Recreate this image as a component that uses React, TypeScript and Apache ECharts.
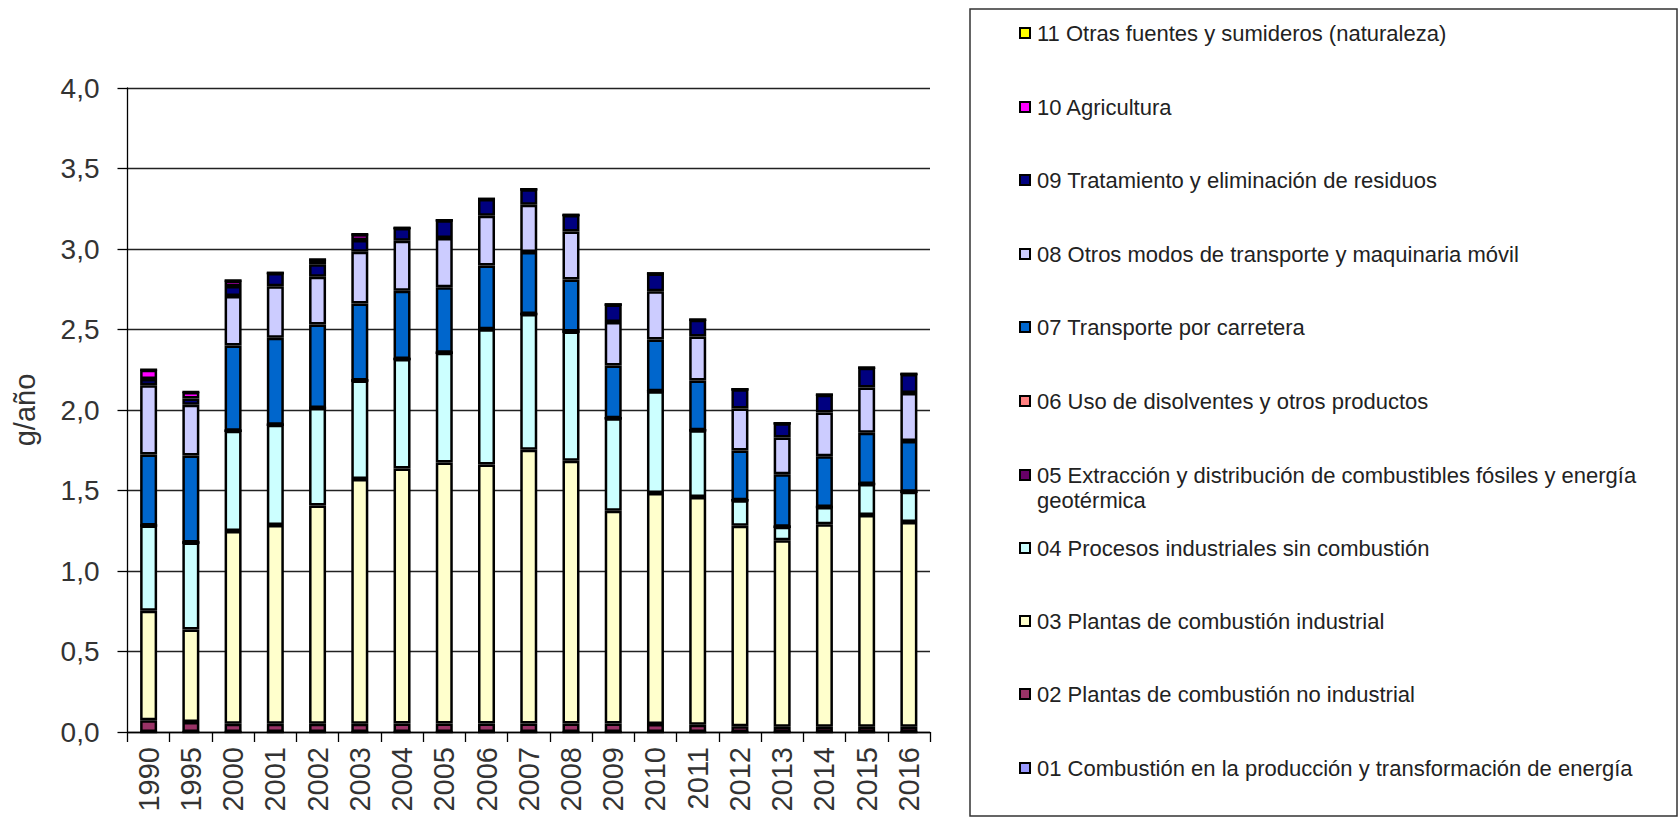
import React, { useEffect, useRef } from "react";
import * as echarts from "echarts";

const years = ["1990","1995","2000","2001","2002","2003","2004","2005","2006","2007","2008","2009","2010","2011","2012","2013","2014","2015","2016"];

const seriesNames = [
  "01 Combustión en la producción y transformación de energía",
  "02 Plantas de combustión no industrial",
  "03 Plantas de combustión industrial",
  "04 Procesos industriales sin combustión",
  "05 Extracción y distribución de combustibles fósiles y energía geotérmica",
  "06 Uso de disolventes y otros productos",
  "07 Transporte por carretera",
  "08 Otros modos de transporte y maquinaria móvil",
  "09 Tratamiento y eliminación de residuos",
  "10 Agricultura",
  "11 Otras fuentes y sumideros (naturaleza)",
];

const seriesColors = ["#9999FF","#993366","#FFFFCC","#CCFFFF","#660066","#FF8080","#0066CC","#CCCCFF","#000080","#FF00FF","#FFFF00"];

const s01 = [0,0,0,0,0,0,0,0,0,0,0,0,0,0,0,0,0,0,0];
const s02 = [0.073,0.062,0.052,0.052,0.052,0.052,0.053,0.053,0.053,0.053,0.053,0.053,0.05,0.045,0.035,0.033,0.033,0.033,0.033];
const s03 = [0.68,0.575,1.197,1.234,1.355,1.519,1.584,1.621,1.609,1.70,1.632,1.322,1.434,1.414,1.246,1.158,1.257,1.315,1.271];
const s04 = [0.53,0.54,0.622,0.623,0.605,0.612,0.68,0.682,0.839,0.844,0.802,0.574,0.633,0.415,0.158,0.084,0.107,0.193,0.188];
const s05 = [0,0,0,0,0,0,0,0,0,0,0,0,0,0,0,0,0,0,0];
const s06 = [0,0,0,0,0,0,0,0,0,0,0,0,0,0,0,0,0,0,0];
const s07 = [0.44,0.54,0.53,0.539,0.519,0.479,0.423,0.407,0.396,0.384,0.324,0.327,0.321,0.31,0.31,0.326,0.315,0.317,0.315];
const s08 = [0.43,0.315,0.307,0.32,0.297,0.321,0.311,0.306,0.31,0.294,0.297,0.271,0.299,0.273,0.26,0.228,0.272,0.282,0.299];
const s09 = [0.04,0.04,0.062,0.083,0.077,0.073,0.08,0.11,0.103,0.096,0.103,0.108,0.111,0.104,0.12,0.089,0.111,0.122,0.118];
const s10 = [0.057,0.04,0.035,0,0.03,0.035,0,0,0,0,0,0,0,0,0,0,0,0,0];
const s11 = [0,0,0,0,0,0,0,0,0,0,0,0,0,0,0,0,0,0,0];

const seriesValues = [s01,s02,s03,s04,s05,s06,s07,s08,s09,s10,s11];

const yTicks = [0, 0.5, 1, 1.5, 2, 2.5, 3, 3.5, 4];

const FONT = "Liberation Sans, Arial, sans-serif";

export default function App() {
  const ref = useRef<HTMLDivElement>(null);

  useEffect(() => {
    document.body.style.margin = "0";
    if (!ref.current) return;
    const chart = echarts.init(ref.current, null, { renderer: "svg" });

    const LH = 25;
    // legend rows (top to bottom: 11 ... 01), centre y in px
    const rowCentres = [33, 107, 180, 254, 327, 401, 475, 548, 621, 694, 768];
    const legends = seriesNames
      .slice()
      .reverse()
      .map((name, i) => {
        const isLong = name.startsWith("05");
        return {
          data: [name],
          orient: "vertical" as const,
          left: 1019,
          top: rowCentres[i] - (isLong ? LH * 1.5 : LH / 2),
          itemWidth: 10,
          itemHeight: 10,
          icon: "rect",
          selectedMode: false,
          padding: 0,
          itemStyle: { borderColor: "#000", borderWidth: 2 },
          formatter: isLong
            ? () => "\n05 Extracción y distribución de combustibles fósiles y energía\ngeotérmica"
            : undefined,
          textStyle: {
            fontSize: 22,
            color: "#222",
            fontFamily: FONT,
            lineHeight: LH,
            padding: [0, 0, 0, 2],
          },
        };
      });

    chart.setOption({
      animation: false,
      backgroundColor: "#fff",
      grid: { left: 127.5, right: 750, top: 88, bottom: 87, containLabel: false },
      legend: legends,
      graphic: [
        {
          type: "rect",
          shape: { x: 970, y: 9, width: 707, height: 807 },
          style: { fill: "none", stroke: "#333", lineWidth: 1.5 },
          silent: true,
        },
      ],
      xAxis: {
        type: "category",
        data: years,
        axisLine: { lineStyle: { color: "#000", width: 1.3 } },
        axisTick: { show: true, length: 10, interval: 0, lineStyle: { color: "#000", width: 1.3 } },
        axisLabel: {
          rotate: 90,
          interval: 0,
          fontSize: 29,
          margin: 15,
          color: "#333",
          fontFamily: FONT,
        },
      },
      yAxis: {
        type: "value",
        min: yTicks[0],
        max: yTicks[yTicks.length - 1],
        interval: 0.5,
        name: "g/año",
        nameLocation: "middle",
        nameGap: 88,
        nameRotate: 90,
        nameTextStyle: { fontSize: 29, color: "#333", fontFamily: FONT },
        axisLine: { show: true, lineStyle: { color: "#000", width: 1.3 } },
        axisTick: { show: true, length: 10, lineStyle: { color: "#000", width: 1.3 } },
        axisLabel: {
          fontSize: 28,
          margin: 28,
          color: "#333",
          fontFamily: FONT,
          formatter: (v: number) => v.toFixed(1).replace(".", ","),
        },
        splitLine: { show: true, lineStyle: { color: "#222", width: 1.3 } },
      },
      series: seriesNames.map((name, i) => ({
        name,
        type: "bar",
        stack: "total",
        barWidth: 17,
        data: seriesValues[i],
        itemStyle: { color: seriesColors[i], borderColor: "#000", borderWidth: 2.5 },
        emphasis: { disabled: true },
      })),
    });

    return () => chart.dispose();
  }, []);

  return <div ref={ref} style={{ width: 1680, height: 819 }} />;
}
